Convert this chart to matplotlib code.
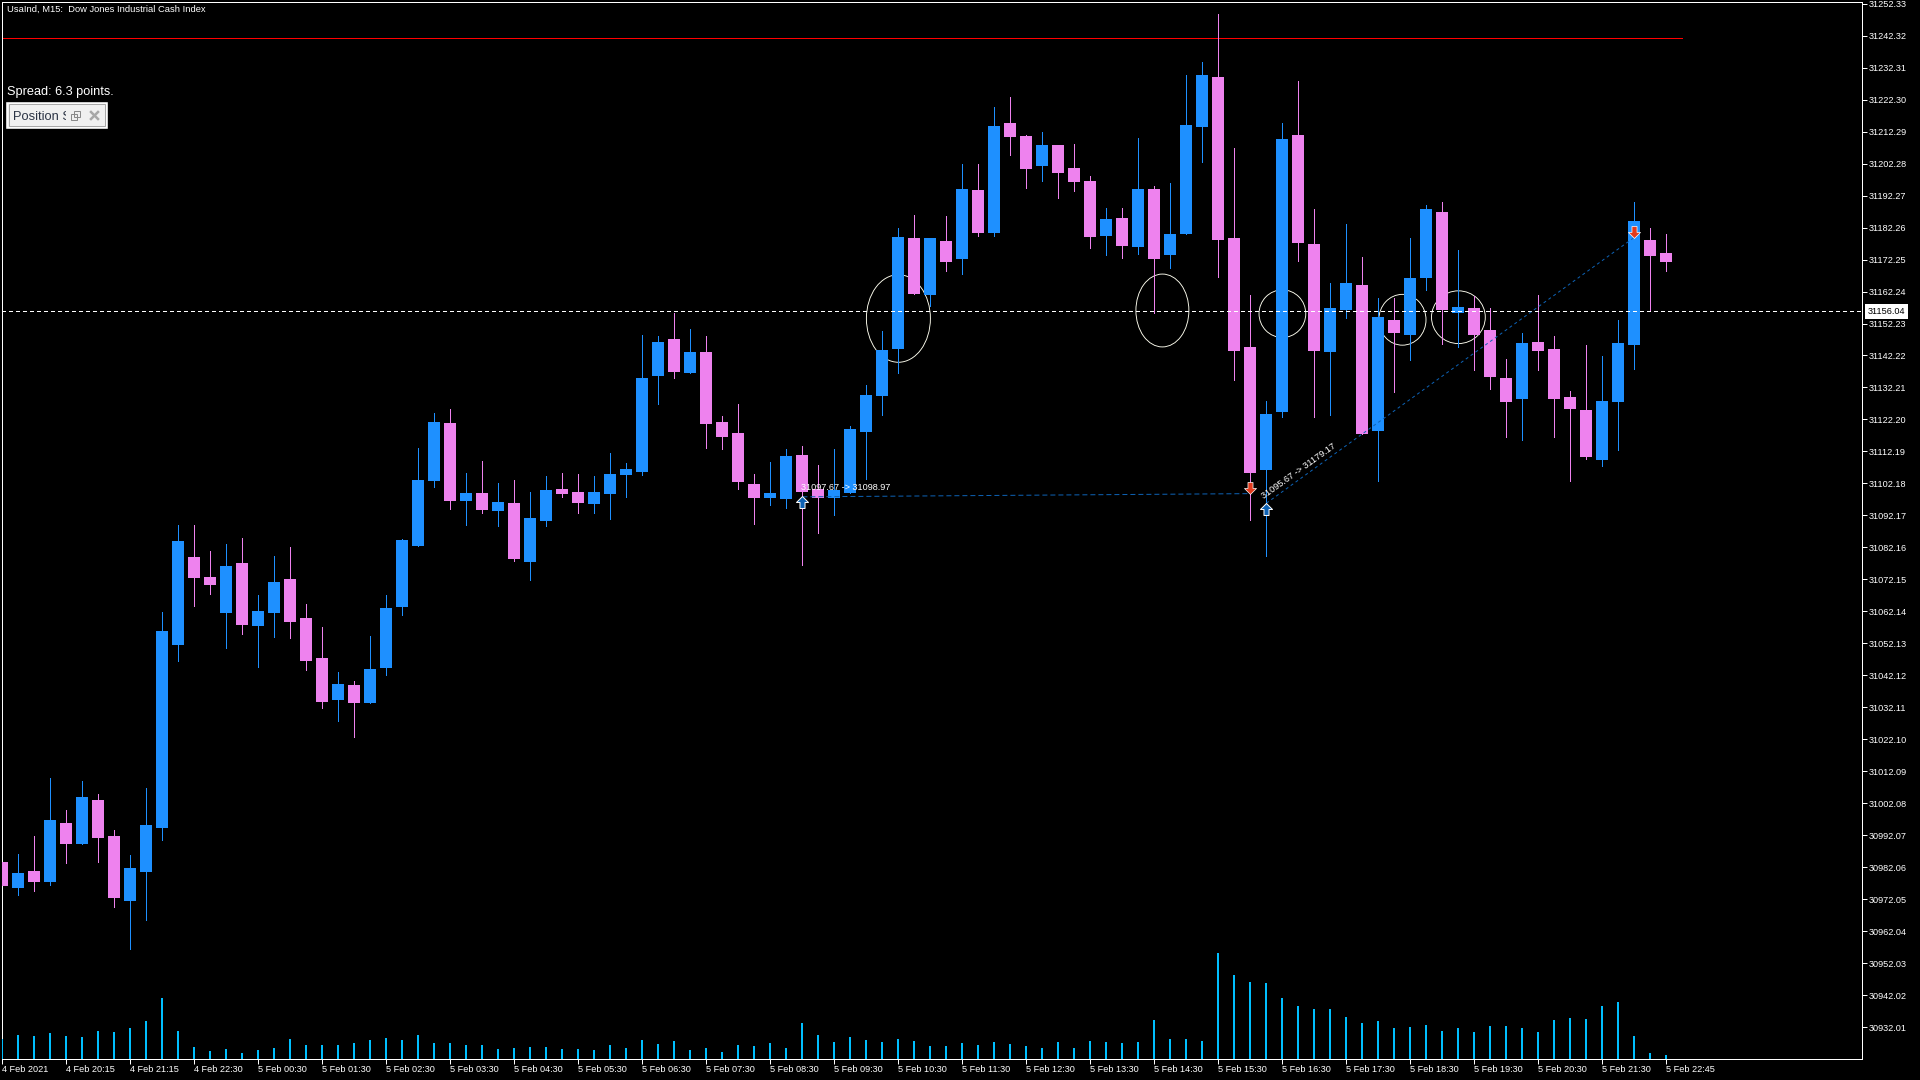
import matplotlib
matplotlib.use("Agg")
import matplotlib.pyplot as plt
from matplotlib.patches import Ellipse, Rectangle
from matplotlib.path import Path
from matplotlib.transforms import Bbox

plt.rcParams['font.family'] = ['Liberation Sans', 'DejaVu Sans']

opens = [30983.7,30975.7,30981.0,30977.5,30995.9,30989.4,31003.1,30991.9,30971.6,30980.6,
         30994.4,31051.6,31079.2,31073.0,31061.7,31077.3,31057.6,31061.7,31072.3,31060.1,
         31047.5,31034.4,31039.1,31033.5,31044.4,31063.5,31082.7,31103.0,31121.2,31096.7,
         31099.2,31093.6,31096.1,31077.7,31090.5,31100.5,31099.5,31095.9,31099.0,31104.9,
         31105.8,31135.8,31147.5,31136.8,31143.4,31121.5,31118.1,31102.1,31097.7,31097.4,
         31111.2,31100.5,31097.7,31099.2,31118.4,31129.6,31144.3,31179.0,31161.2,31178.1,
         31172.5,31194.0,31180.6,31215.0,31210.9,31201.6,31208.1,31200.9,31196.8,31179.7,
         31185.3,31176.2,31194.3,31173.8,31180.3,31213.7,31229.4,31179.0,31144.9,31106.4,
         31124.5,31211.2,31177.1,31143.3,31156.5,31164.3,31118.7,31153.4,31148.7,31166.4,
         31187.2,31155.5,31157.1,31150.3,31135.2,31128.6,31146.4,31144.3,31129.3,31125.2,
         31109.6,31127.6,31145.5,31178.4,31174.3]
highs = [30984.7,30986.2,30991.9,31010.0,31000.0,31009.1,31005.0,30993.8,30985.9,31006.9,
         31062.0,31089.2,31089.2,31081.1,31083.2,31085.0,31067.3,31079.5,31082.3,31064.5,
         31057.2,31043.2,31040.4,31054.4,31067.3,31084.9,31113.3,31124.3,31125.5,31105.6,
         31109.2,31102.4,31103.3,31099.5,31104.6,31105.6,31105.2,31104.6,31111.8,31108.7,
         31148.7,31148.3,31155.5,31150.6,31148.3,31123.3,31127.1,31105.2,31108.9,31113.0,
         31114.0,31108.0,31113.0,31120.2,31133.0,31150.0,31182.2,31186.3,31179.0,31185.9,
         31202.2,31202.2,31220.0,31223.1,31211.2,31212.2,31208.1,31208.5,31198.4,31188.4,
         31188.4,31210.3,31195.3,31196.3,31230.0,31234.1,31249.1,31207.2,31161.2,31128.0,
         31215.1,31228.1,31188.1,31164.9,31183.4,31173.0,31160.2,31160.2,31179.0,31189.3,
         31190.3,31175.3,31160.7,31157.1,31141.2,31149.3,31161.2,31148.4,31131.1,31145.5,
         31142.1,31153.4,31190.3,31182.1,31180.2]
lows = [30975.4,30973.5,30974.8,30976.6,30983.4,30989.4,30983.8,30969.6,30956.5,30965.7,
        30990.6,31046.7,31063.8,31067.6,31050.7,31055.1,31044.7,31054.1,31053.8,31043.9,
        31031.9,31027.8,31022.9,31033.5,31042.3,31061.0,31082.7,31101.1,31094.2,31089.3,
        31093.0,31089.0,31078.0,31072.0,31089.0,31098.0,31093.0,31093.0,31091.1,31098.0,
        31104.9,31127.1,31135.2,31136.8,31113.3,31113.0,31100.5,31089.6,31095.5,31094.6,
        31076.8,31086.8,31092.4,31099.2,31103.6,31123.7,31136.8,31161.5,31157.6,31168.7,
        31167.7,31179.7,31179.7,31205.0,31194.7,31196.8,31191.5,31193.7,31175.9,31173.8,
        31172.8,31174.1,31155.5,31169.7,31180.3,31202.8,31166.8,31134.6,31090.8,31079.6,
        31122.9,31171.8,31123.1,31123.6,31154.1,31117.7,31103.0,31130.9,31140.8,31162.8,
        31145.8,31145.0,31137.7,31131.7,31116.7,31115.8,31137.7,31116.7,31103.0,31109.8,
        31107.6,31112.7,31138.1,31156.0,31168.7]
closes = [30976.2,30980.3,30977.5,30996.9,30989.4,31004.1,30991.3,30972.4,30981.9,30995.3,
          31056.1,31084.2,31072.6,31070.4,31076.4,31057.9,31062.3,31071.4,31058.9,31046.7,
          31033.9,31039.5,31033.5,31044.1,31063.3,31084.5,31103.3,31121.5,31096.7,31099.2,
          31093.9,31096.4,31078.6,31091.4,31100.2,31099.0,31096.1,31099.5,31105.2,31106.7,
          31135.2,31146.5,31137.1,31143.4,31120.9,31116.8,31102.6,31097.7,31099.2,31110.8,
          31099.5,31097.7,31100.2,31119.2,31129.9,31144.0,31179.4,31161.5,31179.0,31171.5,
          31194.3,31180.6,31214.1,31210.6,31200.6,31208.1,31199.4,31196.6,31179.4,31185.0,
          31176.6,31194.3,31172.5,31180.3,31214.4,31230.0,31178.4,31143.7,31105.5,31123.9,
          31210.0,31177.5,31143.7,31157.1,31164.9,31117.7,31154.3,31149.3,31166.4,31188.1,
          31156.5,31157.5,31148.7,31135.5,31127.6,31146.2,31143.7,31128.6,31125.5,31110.5,
          31128.0,31146.2,31184.3,31173.4,31171.5]
volumes = [20,24.4,23.4,26.2,23.4,22.4,28.2,27.2,31.3,38.2,
           61.3,28.2,12.4,8.3,10.3,6.2,9.3,11.4,20.3,14.5,
           14.5,14.5,16.2,19.3,21.3,19.3,24.4,16.2,16.2,14.5,
           14.5,10.3,11.4,12.4,12.4,10.3,10.3,9.3,14.5,11.4,
           19,15,18,9,11,7,14,13,16,11,
           36,24,17,22,19,17,20,18,13,13,
           16,14,17,15,13,11,17,11,18,17,
           16,17,39,20,20,18,106,84,77,76,
           61,53,50,50,42,36,38,31,32,34,
           28,31,27,33,33,31,27,39,41,40,
           53,57,23,6,4]

price_ticks = [31252.33,31242.32,31232.31,31222.30,31212.29,31202.28,31192.27,31182.26,31172.25,
               31162.24,31152.23,31142.22,31132.21,31122.20,31112.19,31102.18,31092.17,31082.16,
               31072.15,31062.14,31052.13,31042.12,31032.11,31022.10,31012.09,31002.08,30992.07,
               30982.06,30972.05,30962.04,30952.03,30942.02,30932.01]
time_tick_idx = list(range(0, 105, 4))
time_labels = ['4 Feb 2021','4 Feb 20:15','4 Feb 21:15','4 Feb 22:30','5 Feb 00:30','5 Feb 01:30',
               '5 Feb 02:30','5 Feb 03:30','5 Feb 04:30','5 Feb 05:30','5 Feb 06:30','5 Feb 07:30',
               '5 Feb 08:30','5 Feb 09:30','5 Feb 10:30','5 Feb 11:30','5 Feb 12:30','5 Feb 13:30',
               '5 Feb 14:30','5 Feb 15:30','5 Feb 16:30','5 Feb 17:30','5 Feb 18:30','5 Feb 19:30',
               '5 Feb 20:30','5 Feb 21:30','5 Feb 22:45']
current_price = 31156.04
resistance_price = 31241.5
ellipses = [(56.0,31153.8,4.0,27.4),(72.5,31156.3,3.31,22.8),(80.0,31155.3,2.92,14.9),
            (87.5,31153.4,2.95,15.9),(91.0,31154.2,3.36,16.5)]
trade1_x = [50, 78]
trade1_y = [31098.0, 31099.0]
trade2_x = [79, 102]
trade2_y = [31096.0, 31179.2]
buy_x = [50, 79]
buy_y = [31096.4, 31094.2]
sell_x = [78, 102]
sell_y = [31100.7, 31180.8]

BLUE = '#1E90FF'
PINK = '#EE82EE'
VOL = '#00BFFF'
PX = 0.72

fig = plt.figure(figsize=(19.2, 10.8), dpi=100, facecolor='black')
pos = [2.4/1920, 1-1059/1080, (1862-2.4)/1920, (1059-2.4)/1080]
ax = fig.add_axes(pos, facecolor='black')
ax.set_xlim(0, 116.225)
ax.set_ylim(30922.1, 31252.7)

n = len(opens)
xs = list(range(n))
cols = [BLUE if c >= o else PINK for o, c in zip(opens, closes)]
tops = [max(o, c) for o, c in zip(opens, closes)]
bots = [min(o, c) for o, c in zip(opens, closes)]

for (x, y, w, h) in ellipses:
    ax.add_patch(Ellipse((x, y), w, h, fill=False, ec='#FFFFF0', lw=0.9*PX, zorder=1))
ax.plot([0, 104.97], [resistance_price]*2, color='#FF0000', lw=PX, zorder=1, antialiased=False)

ax.vlines(xs, lows, highs, colors=cols, lw=PX, zorder=2, antialiased=False)
ax.bar(xs, [t-b for t, b in zip(tops, bots)], bottom=bots, width=0.75, color=cols,
       linewidth=0, zorder=3, antialiased=False)

ax.axhline(current_price, color='white', lw=PX, linestyle=(0, (4, 3)), zorder=4, antialiased=False)

DASH = '#0E62B4'
ax.plot(trade1_x, trade1_y, color=DASH, lw=1.0*PX, linestyle=(0, (5, 3)), zorder=5)
ax.plot(trade2_x, trade2_y, color=DASH, lw=1.0*PX, linestyle=(0, (3, 3)), zorder=5)
up = Path([(0,1),(1,0),(0.42,0),(0.42,-1),(-0.42,-1),(-0.42,0),(-1,0),(0,1)], closed=True)
down = Path([(0,-1),(1,0),(0.42,0),(0.42,1),(-0.42,1),(-0.42,0),(-1,0),(0,-1)], closed=True)
ax.scatter(buy_x, buy_y, marker=up, s=75, c='#0E62B4', edgecolors='white', linewidths=0.7, zorder=6)
ax.scatter(sell_x, sell_y, marker=down, s=75, c='#E23A1C', edgecolors='white', linewidths=0.5, zorder=6)
ax.text(49.9, 31100.9, '31097.67 -> 31098.97', color='white', fontsize=6.6, va='center', ha='left', zorder=7)
ax.text(81.0, 31106.1, '31095.67 -> 31179.17', color='white', fontsize=6.6, va='center', ha='center',
        rotation=35.6, rotation_mode='anchor', zorder=7)

for s in ax.spines.values():
    s.set_color('white')
    s.set_linewidth(PX)
ax.yaxis.tick_right()
ax.set_yticks(price_ticks)
ax.set_yticklabels([f'{p:.2f}' for p in price_ticks])
ax.tick_params(axis='y', colors='white', labelsize=6.6, length=3.6, width=PX, pad=1)
ax.set_xticks(time_tick_idx)
ax.set_xticklabels(time_labels, ha='left')
ax.tick_params(axis='x', colors='white', labelsize=6.6, length=3.6, width=PX, pad=0.5)

ax.text(1.0032, current_price, f'{current_price:.2f}', transform=ax.get_yaxis_transform(), color='black',
        fontsize=6.6, va='center', ha='left', clip_on=False, zorder=10,
        bbox=dict(facecolor='white', edgecolor='none', pad=2.0))

ax_vol = fig.add_axes(pos, frameon=False)
ax_vol.set_xlim(0, 116.225)
ax_vol.set_ylim(0, 1056.6)
ax_vol.bar(xs, volumes, width=0.125, color=VOL, linewidth=0, antialiased=False)
ax_vol.set_xticks([])
ax_vol.set_yticks([])

ui = fig.add_axes([0, 0, 1, 1], frameon=False)
ui.set_xlim(0, 1920)
ui.set_ylim(1080, 0)
ui.set_xticks([])
ui.set_yticks([])
ui.text(6.7, 9.5, 'UsaInd, M15:  Dow Jones Industrial Cash Index', color='white', fontsize=6.75, va='center', ha='left')
ui.text(7.3, 91.5, 'Spread: 6.3 points.', color='white', fontsize=9.2, va='center', ha='left')
ui.add_patch(Rectangle((7, 102.5), 99.5, 25, fc='#F0F0F0', ec='white', lw=1.6*PX))
ui.add_patch(Rectangle((8.5, 104), 96.5, 22, fill=False, ec='#A8A8A8', lw=1*PX))
t = ui.text(13.3, 116.5, 'Position Size', color='#2B3445', fontsize=9.3, va='center', ha='left')
t.set_clip_box(Bbox.from_extents(13, 0, 66, 1080))
t.set_clip_on(True)
ui.add_patch(Rectangle((70.5, 114), 6, 6, fill=False, ec='#8A8A8A', lw=1*PX))
ui.add_patch(Rectangle((73.5, 111), 6, 6, fill=False, ec='#8A8A8A', lw=1*PX))
ui.plot([91, 98], [112, 119], color='#A8A8A8', lw=1.8)
ui.plot([91, 98], [119, 112], color='#A8A8A8', lw=1.8)

fig.savefig('out.png', dpi=100, facecolor='black')
